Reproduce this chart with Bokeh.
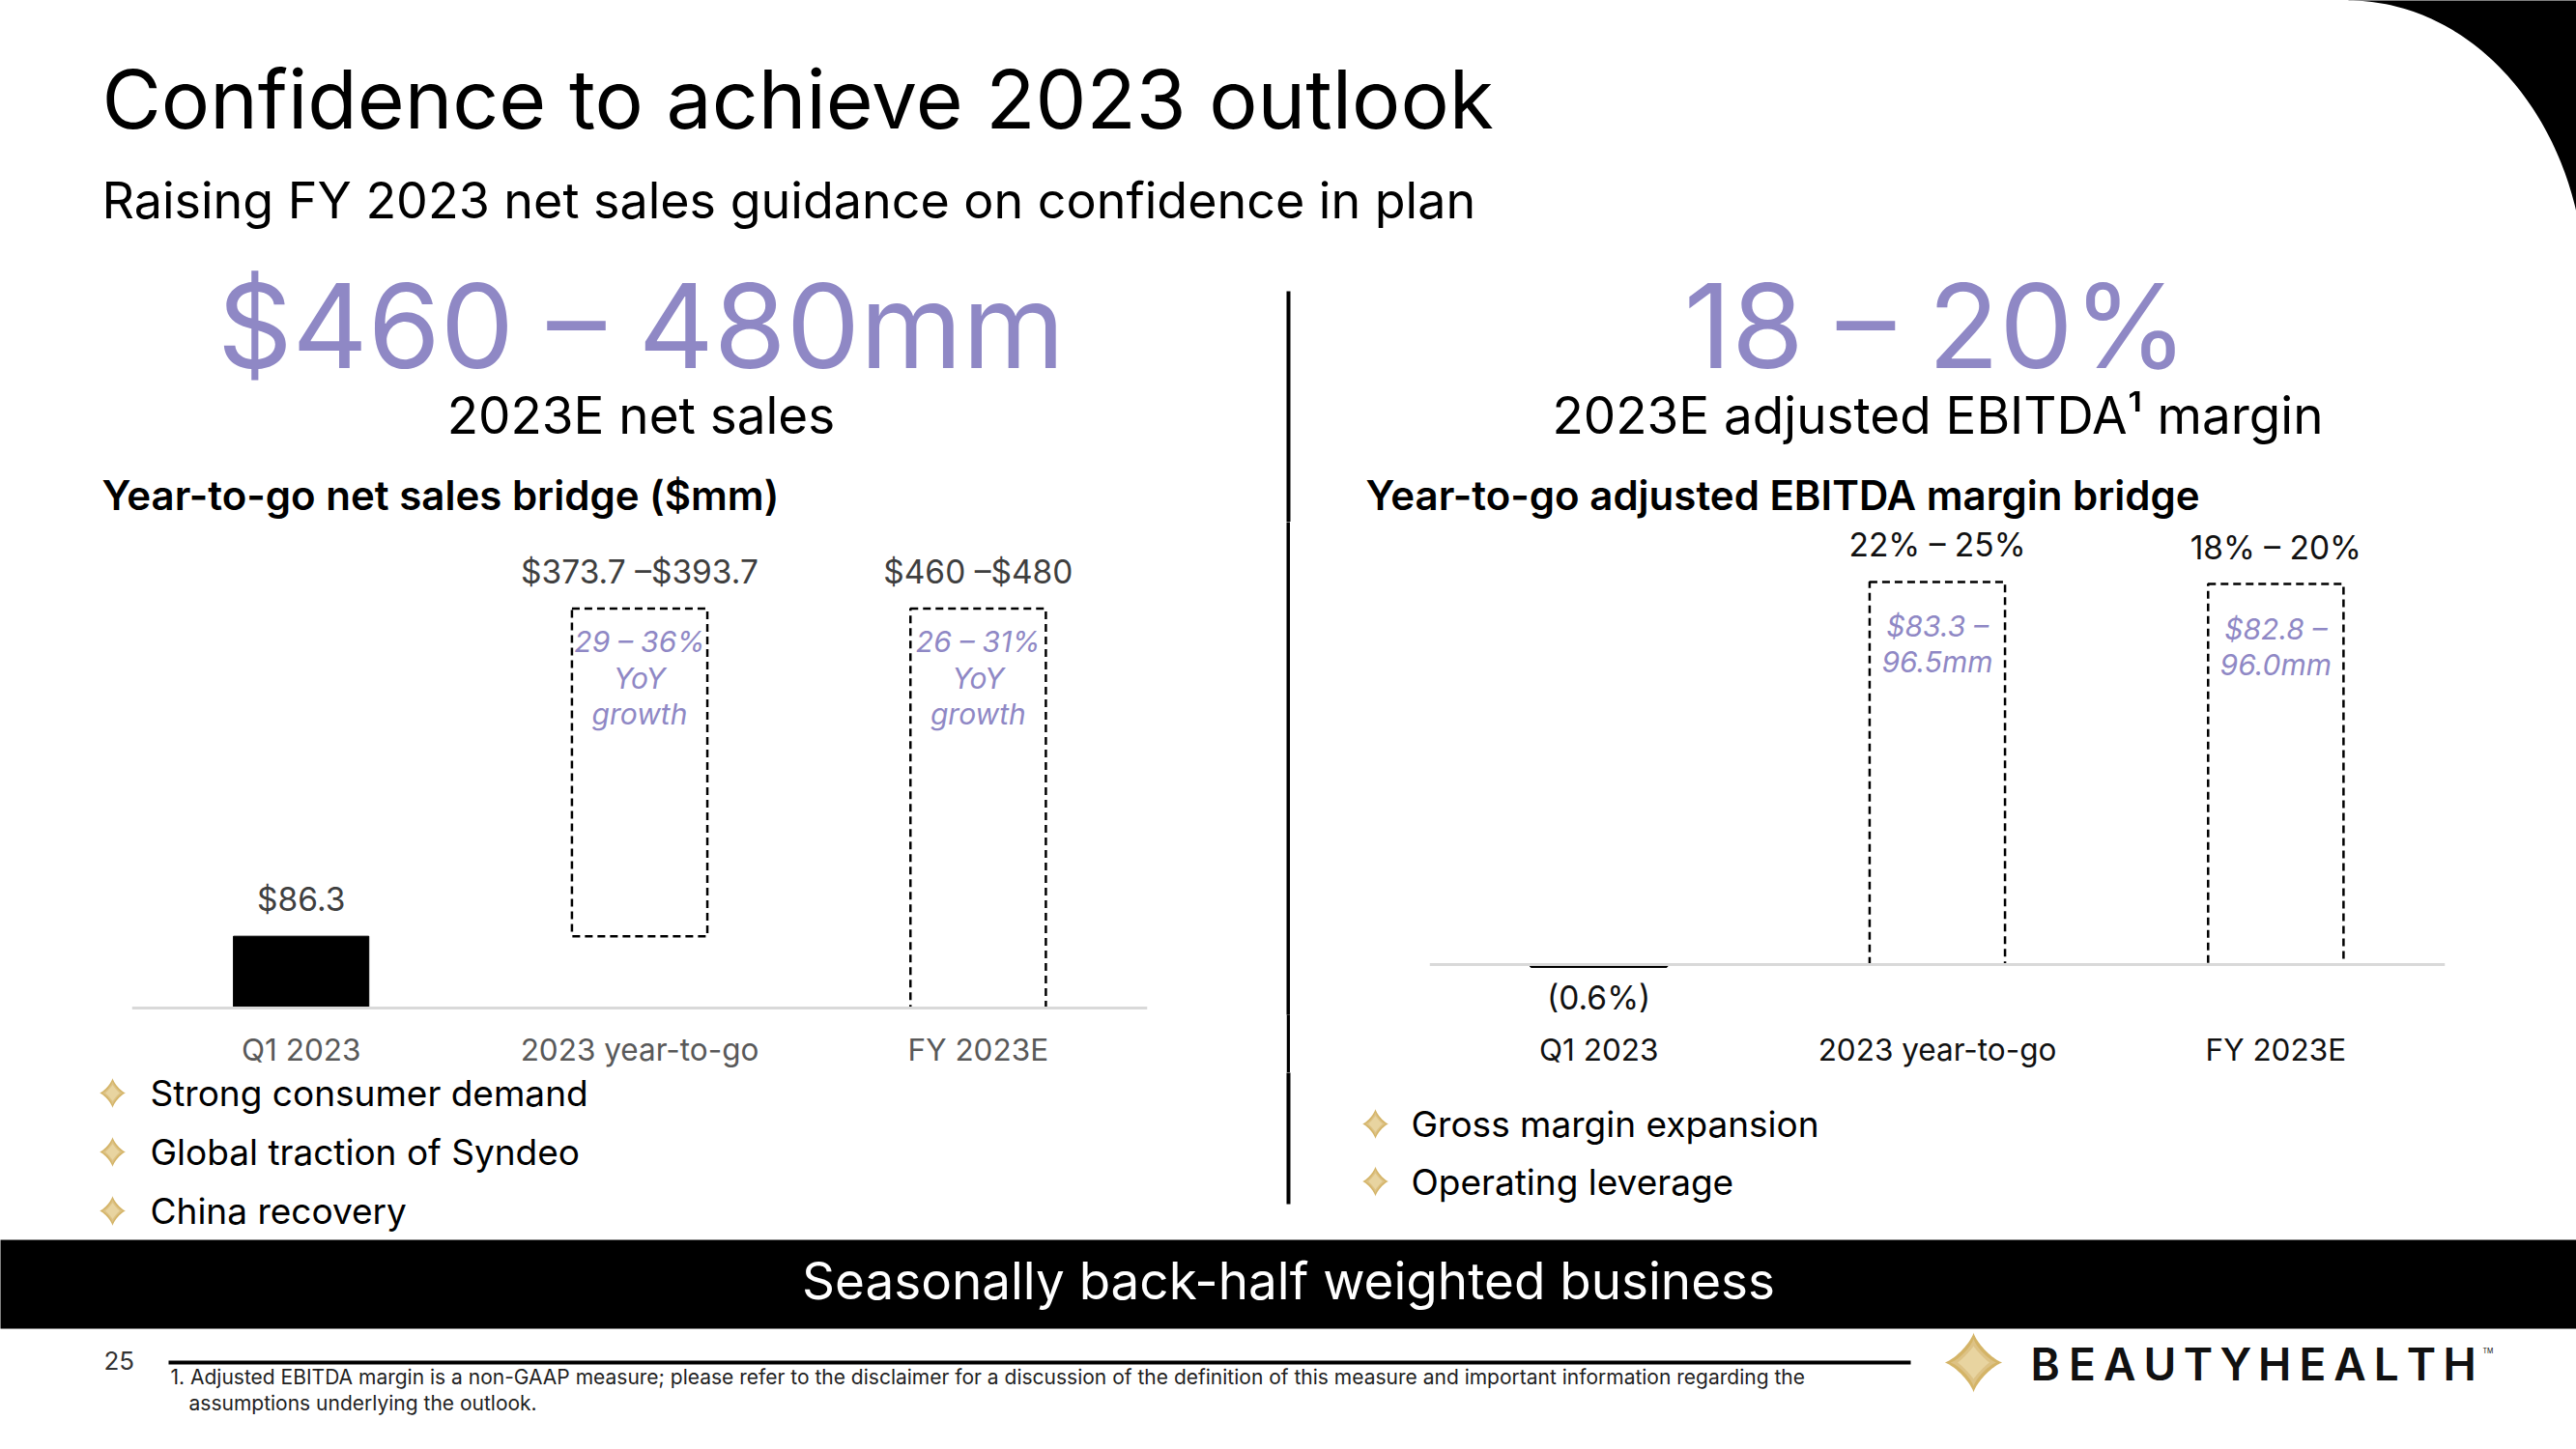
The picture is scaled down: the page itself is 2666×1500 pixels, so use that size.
import numpy as np
from bokeh.plotting import figure
from bokeh.layouts import column, row
from bokeh.models import Range1d, FactorRange, Span, ColumnDataSource
from bokeh.core.properties import value
from bokeh.embed import file_html
from bokeh.resources import INLINE

FONT = "Inter"
HEAD_FONT = "'Inter SemiBold', Inter"
PURPLE = "#8F88C5"
GOLD_DARK = "#D4B467"
GOLD_LIGHT = "#E8D4A0"

# ---------------- data ----------------
title = "Confidence to achieve 2023 outlook"
subtitle = "Raising FY 2023 net sales guidance on confidence in plan"

categories = ["Q1 2023", "2023 year-to-go", "FY 2023E"]

# net sales ($mm)
q1_sales = 86.3
ytg_sales_range = [373.7, 393.7]
fy_sales_range = [460, 480]
ytg_sales_growth = "29 – 36%"
fy_sales_growth = "26 – 31%"

# adjusted EBITDA margin (%) and adjusted EBITDA ($mm)
q1_margin_pct = -0.6
ytg_margin_range = [22, 25]
fy_margin_range = [18, 20]
q1_ebitda = -0.5
ytg_ebitda_range = [83.3, 96.5]
fy_ebitda_range = [82.8, 96.0]

headline_sales = "$460 – 480mm"
headline_sales_caption = "2023E net sales"
headline_margin = "18 – 20%"
headline_margin_caption = "2023E adjusted EBITDA¹ margin"
left_heading = "Year-to-go net sales bridge ($mm)"
right_heading = "Year-to-go adjusted EBITDA margin bridge"
left_bullets = ["Strong consumer demand", "Global traction of Syndeo", "China recovery"]
right_bullets = ["Gross margin expansion", "Operating leverage"]
banner = "Seasonally back-half weighted business"
page_number = "25"
footnote = ["1. Adjusted EBITDA margin is a non-GAAP measure; please refer to the disclaimer for a discussion of the definition of this measure and important information regarding the",
            "assumptions underlying the outlook."]
logo_text = "BEAUTYHEALTH"

W = 2666


# ---------------- helpers ----------------
def canvas(w, h, y_top, y_bottom, x_left=0):
    p = figure(width=w, height=h, x_range=Range1d(x_left, x_left + w),
               y_range=Range1d(y_bottom, y_top), x_axis_type=None, y_axis_type=None,
               output_backend="svg", toolbar_location=None, min_border=0)
    p.outline_line_color = None
    p.grid.visible = False
    p.background_fill_color = "white"
    p.border_fill_color = "white"
    return p


def txt(p, x, y, s, size, color="#000000", align="left", style="normal",
        x_offset=0, y_offset=0, font=FONT):
    # y is the vertical centre of the text line
    p.text(x=[x], y=[y], text=[s], text_font=value(font), text_font_size=f"{size}px",
           text_color=color, text_align=align, text_baseline="middle",
           text_font_style=style, x_offset=x_offset, y_offset=y_offset)


def star(p, cx, cy, w, h, color, k=2.6):
    t = np.linspace(0, 2 * np.pi, 160)
    c, s = np.cos(t), np.sin(t)
    xs = cx + w / 2 * np.sign(c) * np.abs(c) ** k
    ys = cy + h / 2 * np.sign(s) * np.abs(s) ** k
    p.patch(xs, ys, fill_color=color, line_color=None)


def gold_star(p, cx, cy, w, h):
    star(p, cx, cy, w, h, GOLD_DARK)
    star(p, cx, cy, w * 0.8, h * 0.8, "#DDC285")
    star(p, cx, cy, w * 0.55, h * 0.55, GOLD_LIGHT, k=2.2)


# ---------------- top section ----------------
top = canvas(W, 540, 0, 540)
txt(top, 105, 102, title, 84)
txt(top, 105, 207, subtitle, 52)
txt(top, 663, 336, headline_sales, 121, PURPLE, align="center")
txt(top, 2003, 336, headline_margin, 121, PURPLE, align="center")
txt(top, 663, 429, headline_sales_caption, 53, align="center")
txt(top, 2005, 429, headline_margin_caption, 53, align="center")
txt(top, 105, 512, left_heading, 42, style="bold", font=HEAD_FONT)
txt(top, 1413, 512, right_heading, 42, style="bold", font=HEAD_FONT)
top.segment(x0=[1333], y0=[301], x1=[1333], y1=[541], line_width=4, line_color="black")
# decorative corner shape
tt = np.linspace(0, np.pi / 2, 80)
cx, cy, a, b = 2430, 300, 245, 300
xs = list(cx + a * np.sin(tt)) + [2700, 2700, 2430]
ys = list(cy - b * np.cos(tt)) + [300, -20, -20]
top.patch(xs, ys, fill_color="black", line_color=None)


# ---------------- chart figures ----------------
def chart_fig(width, y_range, mbl, mbr, label_color):
    p = figure(width=width, height=570, x_range=FactorRange(factors=categories),
               y_range=y_range, y_axis_type=None, output_backend="svg",
               toolbar_location=None, min_border_left=mbl, min_border_right=mbr,
               min_border_top=0, min_border_bottom=60)
    p.outline_line_color = None
    p.grid.visible = False
    ax = p.xaxis[0]
    ax.axis_line_color = None
    ax.major_tick_line_color = None
    ax.minor_tick_line_color = None
    ax.major_tick_out = 0
    ax.major_tick_in = 0
    ax.major_label_standoff = 16
    ax.major_label_text_font = FONT
    ax.major_label_text_font_size = "31.5px"
    ax.major_label_text_color = label_color
    p.add_layout(Span(location=0, dimension="width", line_color="#D9D9D9", line_width=3))
    return p


# left: net sales bridge
left = chart_fig(1331, Range1d(-8.1, 583.9), 136, 144, "#595959")
left.vbar(x=[categories[0]], bottom=[0], top=[q1_sales], width=0.4,
          fill_color="black", line_color="black")
box_src = ColumnDataSource(dict(
    cat=categories[1:],
    bottom=[q1_sales, 0],
    top=[q1_sales + ytg_sales_range[1], fy_sales_range[1]],
))
left.vbar(x="cat", bottom="bottom", top="top", width=0.4, source=box_src,
          fill_color=None, line_color="black", line_width=2.5, line_dash="8 5")
sales_labels = [f"${q1_sales}",
                f"${ytg_sales_range[0]} –${ytg_sales_range[1]}",
                f"${fy_sales_range[0]} –${fy_sales_range[1]}"]
sales_label_y = [q1_sales, q1_sales + ytg_sales_range[1], fy_sales_range[1]]
for c, yv, s in zip(categories, sales_label_y, sales_labels):
    txt(left, c, yv, s, 33.5, "#3F3F3F", align="center", y_offset=-38)
for c, g in zip(categories[1:], [ytg_sales_growth, fy_sales_growth]):
    for i, line in enumerate([g, "YoY", "growth"]):
        txt(left, c, fy_sales_range[1], line, 30, PURPLE, align="center",
            style="italic", y_offset=34 + 37.5 * i)

# middle divider strip (frame and border both black)
mid = figure(width=4, height=570, x_range=Range1d(0, 1), y_range=Range1d(0, 1),
             x_axis_type=None, y_axis_type=None, output_backend="svg",
             toolbar_location=None, min_border=0)
mid.outline_line_color = None
mid.grid.visible = False
mid.background_fill_color = "black"
mid.border_fill_color = "black"

# right: adjusted EBITDA margin bridge
right = chart_fig(1331, Range1d(-12.67, 111.6), 144, 136, "#111111")
right.vbar(x=[categories[0]], bottom=[0], top=[q1_ebitda], width=0.4,
           fill_color="black", line_color="black", line_width=3)
ebitda_src = ColumnDataSource(dict(
    cat=categories[1:],
    bottom=[0, 0],
    top=[ytg_ebitda_range[1], fy_ebitda_range[1]],
))
right.vbar(x="cat", bottom="bottom", top="top", width=0.4, source=ebitda_src,
           fill_color=None, line_color="black", line_width=2.5, line_dash="8 5")
margin_labels = [f"{ytg_margin_range[0]}% – {ytg_margin_range[1]}%",
                 f"{fy_margin_range[0]}% – {fy_margin_range[1]}%"]
for c, yv, s in zip(categories[1:], [ytg_ebitda_range[1], fy_ebitda_range[1]], margin_labels):
    txt(right, c, yv, s, 33.5, "#111111", align="center", y_offset=-38)
txt(right, categories[0], q1_ebitda, f"({abs(q1_margin_pct)}%)", 33.5, "#111111",
    align="center", y_offset=32)
for c, rng in zip(categories[1:], [ytg_ebitda_range, fy_ebitda_range]):
    lines = [f"${rng[0]} –", f"{rng[1]:.1f}mm"]
    for i, line in enumerate(lines):
        txt(right, c, rng[1], line, 30, PURPLE, align="center", style="italic",
            y_offset=46 + 37 * i)

# ---------------- bottom section ----------------
bot = canvas(W, 390, 1110, 1500)
for i, s in enumerate(left_bullets):
    yc = 1131 + 61 * i
    gold_star(bot, 116, yc, 27, 31)
    txt(bot, 155, yc, s, 37)
for i, s in enumerate(right_bullets):
    yc = 1163 + 59.5 * i
    gold_star(bot, 1423, yc, 27, 31)
    txt(bot, 1460, yc, s, 37)
bot.segment(x0=[1333], y0=[1109], x1=[1333], y1=[1246], line_width=4, line_color="black")
bot.quad(left=[-10], right=[2700], top=[1283], bottom=[1375], fill_color="black", line_color=None)
txt(bot, 1333, 1325, banner, 53, "white", align="center")
txt(bot, 107, 1408, page_number, 26, "#333333")
bot.segment(x0=[174], y0=[1410], x1=[1977], y1=[1410], line_width=4, line_color="black")
txt(bot, 176, 1425, footnote[0], 21, "#1F1F1F")
txt(bot, 195, 1452, footnote[1], 21, "#1F1F1F")
# logo
gold_star(bot, 2042, 1410, 60, 62)
cap_w = {"B": 0.70, "E": 0.62, "A": 0.74, "U": 0.74, "T": 0.66, "Y": 0.70,
         "H": 0.76, "L": 0.58}
lsize = 46
adv = np.array([cap_w[ch] for ch in logo_text]) * lsize
gap = (462 - adv.sum()) / (len(logo_text) - 1)
xpos = 2101 + np.concatenate([[0], np.cumsum(adv[:-1] + gap)])
for ch, xp in zip(logo_text, xpos):
    txt(bot, float(xp), 1411, ch, lsize, "#111111", style="bold", font=HEAD_FONT)
txt(bot, 2569, 1398, "TM", 7, "#111111")

layout = column(top, row(left, mid, right), bot)
open("out.html", "w").write(file_html(layout, INLINE))
